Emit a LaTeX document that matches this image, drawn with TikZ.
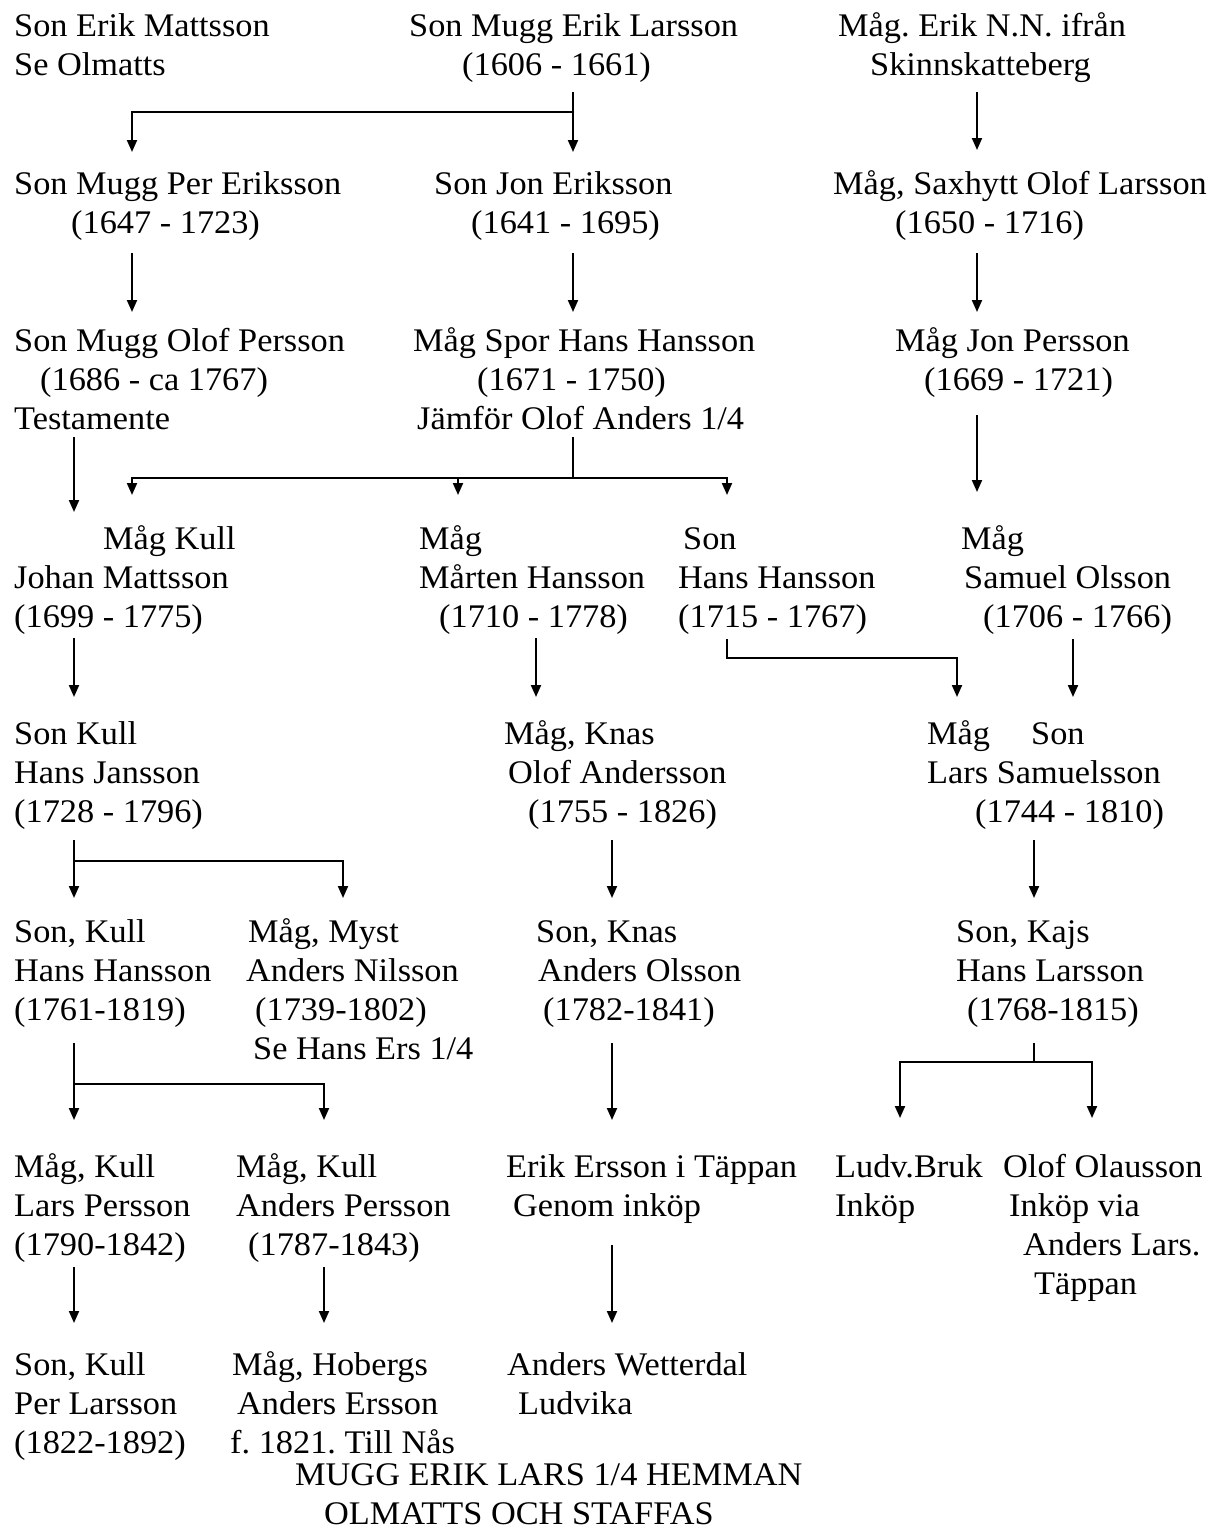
\documentclass[tikz,border=0pt]{standalone}
\usepackage{fontspec}
\setmainfont{Liberation Serif}[FakeStretch=1.04]
\usetikzlibrary{arrows.meta}
\frenchspacing
\newcommand\blk[1]{\vtop{\baselineskip=39pt\lineskiplimit=-100pt\tabskip=0pt\halign{##\hfil\cr#1\crcr}}}
\newcommand\ind[1]{\hspace*{#1pt}}

\begin{document}
\begin{tikzpicture}[x=1pt,y=-1pt,
    txt/.style={anchor=base west,inner sep=0pt,font=\fontsize{33}{39}\selectfont},
    con/.style={line width=2pt},
    arr/.style={con,-{Triangle[length=12pt,width=10pt]}}]
  \useasboundingbox (0,0) rectangle (1212,1532);

  \node[txt] (sem) at (14,36) {\blk{Son Erik Mattsson\cr Se Olmatts}};
  \node[txt] (mel) at (409,36) {\blk{Son Mugg Erik Larsson\cr\ind{53}(1606 - 1661)}};
  \node[txt] (enn) at (838,36) {\blk{Måg. Erik N.N. ifrån\cr\ind{32}Skinnskatteberg}};

  \node[txt] (mpe) at (14,194) {\blk{Son Mugg Per Eriksson\cr\ind{57}(1647 - 1723)}};
  \node[txt] (jon) at (434,194) {\blk{Son Jon Eriksson\cr\ind{37}(1641 - 1695)}};
  \node[txt] (sol) at (833,194) {\blk{Måg, Saxhytt Olof Larsson\cr\ind{62}(1650 - 1716)}};

  \node[txt] (mop) at (14,351) {\blk{Son Mugg Olof Persson\cr\ind{26}(1686 - ca 1767)\cr Testamente}};
  \node[txt] (spor) at (413,351) {\blk{Måg Spor Hans Hansson\cr\ind{64}(1671 - 1750)\cr\ind{4}Jämför Olof Anders 1/4}};
  \node[txt] (jpe) at (895,351) {\blk{Måg Jon Persson\cr\ind{29}(1669 - 1721)}};

  \node[txt] (jma) at (14,549) {\blk{\ind{89}Måg Kull\cr Johan Mattsson\cr(1699 - 1775)}};
  \node[txt] (mha) at (419,549) {\blk{Måg\cr Mårten Hansson\cr\ind{20}(1710 - 1778)}};
  \node[txt] (hha) at (678,549) {\blk{\ind{5}Son\cr Hans Hansson\cr(1715 - 1767)}};
  \node[txt] (sam) at (961,549) {\blk{Måg\cr\ind{3}Samuel Olsson\cr\ind{22}(1706 - 1766)}};

  \node[txt] (hja) at (14,744) {\blk{Son Kull\cr Hans Jansson\cr(1728 - 1796)}};
  \node[txt] (oan) at (504,744) {\blk{Måg, Knas\cr\ind{4}Olof Andersson\cr\ind{24}(1755 - 1826)}};
  \node[txt] (lsa) at (927,744) {\blk{\makebox[104pt][l]{Måg}Son\cr Lars Samuelsson\cr\ind{48}(1744 - 1810)}};

  \node[txt] (hh2) at (14,942) {\blk{Son, Kull\cr Hans Hansson\cr(1761-1819)}};
  \node[txt] (ani) at (246,942) {\blk{\ind{2}Måg, Myst\cr Anders Nilsson\cr\ind{9}(1739-1802)\cr\ind{7}Se Hans Ers 1/4}};
  \node[txt] (aol) at (536,942) {\blk{Son, Knas\cr\ind{2}Anders Olsson\cr\ind{7}(1782-1841)}};
  \node[txt] (hla) at (956,942) {\blk{Son, Kajs\cr Hans Larsson\cr\ind{11}(1768-1815)}};

  \node[txt] (lpe) at (14,1177) {\blk{Måg, Kull\cr Lars Persson\cr(1790-1842)}};
  \node[txt] (ape) at (236,1177) {\blk{Måg, Kull\cr Anders Persson\cr\ind{12}(1787-1843)}};
  \node[txt] (eer) at (506,1177) {\blk{Erik Ersson i Täppan\cr\ind{7}Genom inköp}};
  \node[txt] (lbr) at (835,1177) {\blk{Ludv.Bruk\cr Inköp}};
  \node[txt] (ool) at (1003,1177) {\blk{Olof Olausson\cr\ind{6}Inköp via\cr\ind{20}Anders Lars.\cr\ind{31}Täppan}};

  \node[txt] (ppl) at (14,1375) {\blk{Son, Kull\cr Per Larsson\cr(1822-1892)}};
  \node[txt] (hob) at (230,1375) {\blk{\ind{2}Måg, Hobergs\cr\ind{7}Anders Ersson\cr f. 1821. Till Nås}};
  \node[txt] (awe) at (507,1375) {\blk{Anders Wetterdal\cr\ind{11}Ludvika}};

  \node[txt] (hem) at (295,1485) {\blk{MUGG ERIK LARS 1/4 HEMMAN\cr\ind{29}OLMATTS OCH STAFFAS}};

  \draw[arr] ([shift={(164,56)}]mel.base west) -- ([shift={(139,-42)}]jon.base west);
  \draw[arr] ([shift={(164,76)}]mel.base west) -| ([shift={(118,-42)}]mpe.base west);
  \draw[arr] ([shift={(139,56)}]enn.base west) -- ([shift={(144,-44)}]sol.base west);

  \draw[arr] ([shift={(118,59)}]mpe.base west) -- ([shift={(118,-39)}]mop.base west);
  \draw[arr] ([shift={(139,59)}]jon.base west) -- ([shift={(160,-39)}]spor.base west);
  \draw[arr] ([shift={(144,59)}]sol.base west) -- ([shift={(82,-39)}]jpe.base west);

  \draw[arr] ([shift={(60,86)}]mop.base west) -- ([shift={(60,-37)}]jma.base west);
  \draw[con] ([shift={(160,86)}]spor.base west) -- ++(0,41) coordinate (sporj);
  \draw[arr] (sporj) -| ([shift={(118,-54)}]jma.base west);
  \draw[arr] (sporj) -| ([shift={(39,-54)}]mha.base west);
  \draw[arr] (sporj) -| ([shift={(49,-54)}]hha.base west);
  \draw[arr] ([shift={(82,64)}]jpe.base west) -- ([shift={(16,-57)}]sam.base west);

  \draw[arr] ([shift={(60,89)}]jma.base west) -- ([shift={(60,-47)}]hja.base west);
  \draw[arr] ([shift={(117,89)}]mha.base west) -- ([shift={(32,-47)}]oan.base west);
  \draw[arr] ([shift={(49,90)}]hha.base west) -- ++(0,19) -| ([shift={(30,-47)}]lsa.base west);
  \draw[arr] ([shift={(112,90)}]sam.base west) -- ([shift={(146,-47)}]lsa.base west);

  \draw[arr] ([shift={(60,96)}]hja.base west) -- ([shift={(60,-44)}]hh2.base west);
  \draw[arr] ([shift={(60,117)}]hja.base west) -| ([shift={(97,-44)}]ani.base west);
  \draw[arr] ([shift={(108,96)}]oan.base west) -- ([shift={(76,-44)}]aol.base west);
  \draw[arr] ([shift={(107,96)}]lsa.base west) -- ([shift={(78,-44)}]hla.base west);

  \draw[arr] ([shift={(60,101)}]hh2.base west) -- ([shift={(60,-57)}]lpe.base west);
  \draw[arr] ([shift={(60,142)}]hh2.base west) -| ([shift={(88,-57)}]ape.base west);
  \draw[arr] ([shift={(76,101)}]aol.base west) -- ([shift={(106,-57)}]eer.base west);
  \draw[con] ([shift={(78,101)}]hla.base west) -- ++(0,19) coordinate (hlaj);
  \draw[arr] (hlaj) -| ([shift={(65,-59)}]lbr.base west);
  \draw[arr] (hlaj) -| ([shift={(89,-59)}]ool.base west);

  \draw[arr] ([shift={(60,90)}]lpe.base west) -- ([shift={(60,-52)}]ppl.base west);
  \draw[arr] ([shift={(88,90)}]ape.base west) -- ([shift={(94,-52)}]hob.base west);
  \draw[arr] ([shift={(106,68)}]eer.base west) -- ([shift={(105,-52)}]awe.base west);
\end{tikzpicture}
\end{document}
